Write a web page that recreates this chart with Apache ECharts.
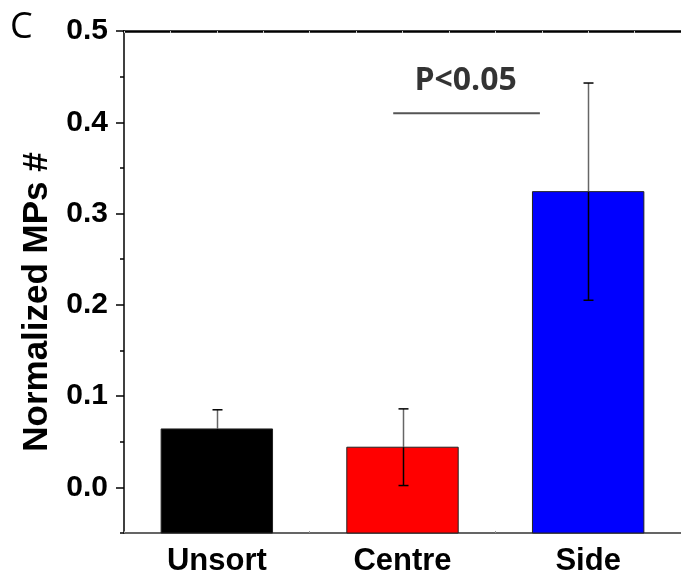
<!DOCTYPE html>
<html>
<head>
<meta charset="utf-8">
<script src="https://cdn.jsdelivr.net/npm/echarts@6/dist/echarts.min.js"></script>
<style>
  html, body { margin: 0; padding: 0; background: #fff; }
  #chart { width: 681px; height: 579px; }
</style>
</head>
<body>
<div id="chart"></div>
<script>
// Group names, mean values and their error (half-range)
const categories = ['Unsort', 'Centre', 'Side'];
const means = [0.064, 0.044, 0.324];
const errors = [0.021, 0.042, 0.119];
const barColors = ['#000000', '#ff0000', '#0000ff'];

// Y axis range and ticks
const yMin = -0.05;
const yMax = 0.5;
const majorTicks = [0, 0.1, 0.2, 0.3, 0.4, 0.5];
const minorTicks = [-0.05, 0.05, 0.15, 0.25, 0.35, 0.45];

// Significance bracket (position on the 0..3 band scale) and its text
const sigLineX = [1.45, 2.24];
const sigLineY = 0.41;
const sigText = 'P<0.05';
const sigTextPos = [1.84, 0.445];

const AX = '"Liberation Sans", Arial, sans-serif';

const chart = echarts.init(document.getElementById('chart'), null, { renderer: 'canvas' });

const barData = categories.map((c, i) => [i, means[i]]);
const errData = categories.map((c, i) => [i, means[i], means[i] - errors[i], means[i] + errors[i]]);

chart.setOption({
  animation: false,
  backgroundColor: '#ffffff',
  grid: { left: 124, right: -2, top: 31, bottom: 46, containLabel: false },
  xAxis: [
    {
      type: 'category',
      data: categories,
      position: 'bottom',
      axisLine: { onZero: false, lineStyle: { color: '#333', width: 1.5 } },
      axisTick: { show: false },
      axisLabel: { margin: 13, color: '#000', fontFamily: AX, fontWeight: 'bold', fontSize: 31 }
    },
    {
      type: 'value', min: 0, max: 3, interval: 0.25, position: 'bottom',
      axisLine: { show: false, onZero: false },
      axisTick: { show: true, inside: true, length: 2, lineStyle: { color: '#999', width: 1 } },
      axisLabel: { show: false }, splitLine: { show: false }
    },
    {
      type: 'value', min: 0, max: 3, interval: 0.25, position: 'top',
      axisLine: { show: true, onZero: false, lineStyle: { color: '#000', width: 2.5 } },
      axisTick: { show: true, inside: true, length: 2, lineStyle: { color: '#ccc', width: 1 } },
      axisLabel: { show: false }, splitLine: { show: false }
    }
  ],
  yAxis: [
    {
      type: 'value', min: yMin, max: yMax, position: 'left',
      name: 'Normalized MPs #', nameLocation: 'middle', nameGap: 69,
      nameTextStyle: { color: '#000', fontFamily: AX, fontWeight: 'bold', fontSize: 35, padding: [0, 40, 0, 0] },
      axisLine: { show: true, onZero: false, lineStyle: { color: '#000', width: 1.5 } },
      axisTick: { show: true, inside: false, length: 8, customValues: majorTicks, lineStyle: { color: '#000', width: 1.5 } },
      axisLabel: { show: true, margin: 16, customValues: majorTicks, color: '#000', fontFamily: AX, fontWeight: 'bold', fontSize: 30,
        formatter: v => v.toFixed(1) },
      splitLine: { show: false }
    },
    {
      type: 'value', min: yMin, max: yMax, position: 'left', offset: 0,
      axisLine: { show: false, onZero: false },
      axisTick: { show: true, inside: false, length: 4, customValues: minorTicks, lineStyle: { color: '#000', width: 1.5 } },
      axisLabel: { show: false },
      splitLine: { show: false }
    }
  ],
  series: [
    {
      // bars rise from the bottom of the axis range
      type: 'custom',
      xAxisIndex: 0, yAxisIndex: 0,
      data: barData,
      z: 2,
      renderItem: function (params, api) {
        const i = api.value(0);
        const top = api.coord([i, api.value(1)]);
        const base = api.coord([i, yMin]);
        const w = api.size([1, 0])[0] * 0.6;
        return {
          type: 'rect',
          shape: { x: top[0] - w / 2, y: top[1], width: w, height: base[1] - top[1] },
          style: { fill: barColors[params.dataIndex], stroke: '#222', lineWidth: 1 }
        };
      }
    },
    {
      // error bars: lighter stem above the bar, dark stem inside it
      type: 'custom',
      xAxisIndex: 0, yAxisIndex: 0,
      data: errData,
      z: 3,
      renderItem: function (params, api) {
        const i = api.value(0);
        const mid = api.coord([i, api.value(1)]);
        const lo = api.coord([i, api.value(2)]);
        const hi = api.coord([i, api.value(3)]);
        const x = Math.round(hi[0]) + 0.5;
        const cap = 5;
        return {
          type: 'group',
          children: [
            { type: 'line', shape: { x1: x, y1: hi[1], x2: x, y2: mid[1] }, style: { stroke: '#666', lineWidth: 1.5 } },
            { type: 'line', shape: { x1: x, y1: mid[1], x2: x, y2: lo[1] }, style: { stroke: '#000', lineWidth: 1.5 } },
            { type: 'line', shape: { x1: x - cap, y1: hi[1], x2: x + cap, y2: hi[1] }, style: { stroke: '#000', lineWidth: 1.5 } },
            { type: 'line', shape: { x1: x - cap, y1: lo[1], x2: x + cap, y2: lo[1] }, style: { stroke: '#000', lineWidth: 1.5 } }
          ]
        };
      }
    },
    {
      type: 'line',
      xAxisIndex: 1, yAxisIndex: 0,
      data: [[sigLineX[0], sigLineY], [sigLineX[1], sigLineY]],
      symbol: 'none',
      lineStyle: { color: '#555', width: 2 },
      z: 4
    },
    {
      type: 'scatter',
      xAxisIndex: 1, yAxisIndex: 0,
      data: [sigTextPos],
      symbolSize: 0,
      label: {
        show: true, position: 'inside', formatter: sigText,
        color: '#000', fontFamily: '"Open Sans", sans-serif', fontWeight: 'bold', fontSize: 32
      },
      z: 4
    }
  ],
  graphic: [
    {
      type: 'text', left: 10, top: 10,
      style: { text: 'C', fill: '#000', font: '36px "Open Sans", sans-serif' }
    }
  ]
});
</script>
</body>
</html>
